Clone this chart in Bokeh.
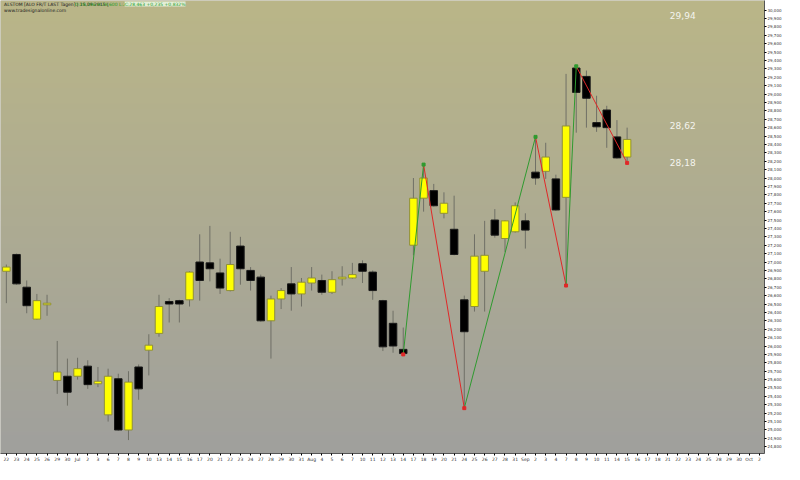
import numpy as np
from bokeh.plotting import figure
from bokeh.models import (ColumnDataSource, FixedTicker, CustomJSTickFormatter,
                          Label, Range1d)
from bokeh.embed import file_html
from bokeh.resources import INLINE

# ---- data -----------------------------------------------------------------
tick_labels = ["22", "23", "24", "25", "26", "29", "30", "Jul", "2", "3",
               "6", "7", "8", "9", "10", "13", "14", "15", "16", "17",
               "20", "21", "22", "23", "24", "27", "28", "29", "30", "31",
               "Aug", "4", "5", "6", "7", "10", "11", "12", "13", "14",
               "17", "18", "19", "20", "21", "24", "25", "26", "27", "28",
               "31", "Sep", "2", "3", "4", "7", "8", "9", "10", "11",
               "14", "15", "16", "17", "18", "21", "22", "23", "24", "25",
               "28", "29", "30", "Oct", "2"]

opens = [26.89, 27.09, 26.70, 26.32, 26.49, 25.59, 25.64, 25.64, 25.76, 25.55,
         25.18, 25.61, 25.00, 25.75, 25.95, 26.15, 26.53, 26.54, 26.55, 27.00,
         26.99, 26.87, 26.66, 27.19, 26.90, 26.82, 26.30, 26.56, 26.74, 26.62,
         26.75, 26.78, 26.64, 26.80, 26.81, 26.98, 26.88, 26.54, 26.27, 25.96,
         27.20, 27.76, 27.85, 27.58, 27.39, 26.55, 26.47, 26.89, 27.50, 27.28,
         27.36, 27.49, 28.07, 28.08, 27.99, 27.77, 29.31, 29.21, 28.66, 28.81,
         28.49, 28.25]
highs = [26.97, 27.10, 26.78, 26.62, 26.61, 26.06, 25.85, 25.86, 25.83, 25.75,
         25.73, 25.67, 25.70, 25.78, 26.14, 26.61, 26.57, 26.55, 26.89, 27.33,
         27.43, 27.04, 27.36, 27.30, 26.94, 26.85, 26.60, 26.69, 26.94, 26.81,
         26.94, 26.85, 26.89, 26.95, 26.99, 27.02, 26.90, 26.55, 26.42, 26.22,
         28.00, 28.16, 27.93, 27.83, 27.79, 26.60, 27.33, 27.49, 27.63, 27.50,
         27.71, 27.58, 28.49, 28.42, 28.04, 29.24, 29.33, 29.28, 28.98, 28.86,
         28.69, 28.60]
lows = [26.51, 26.73, 26.39, 26.31, 26.36, 25.43, 25.29, 25.60, 25.49, 25.51,
        25.10, 24.99, 24.88, 25.36, 25.65, 26.11, 26.28, 26.28, 26.47, 26.54,
        26.77, 26.62, 26.65, 26.73, 26.66, 26.29, 25.85, 26.44, 26.42, 26.47,
        26.66, 26.61, 26.62, 26.72, 26.80, 26.75, 26.55, 25.94, 25.92, 25.90,
        27.08, 27.60, 27.66, 27.52, 27.08, 25.26, 26.41, 26.41, 27.29, 27.12,
        27.35, 27.16, 27.92, 27.99, 27.61, 26.72, 28.54, 28.60, 28.55, 28.36,
        28.23, 28.18]
closes = [26.94, 26.74, 26.48, 26.54, 26.51, 25.69, 25.45, 25.73, 25.54, 25.58,
          25.64, 25.00, 25.57, 25.49, 26.01, 26.47, 26.50, 26.50, 26.88, 26.78,
          26.92, 26.69, 26.97, 26.92, 26.78, 26.30, 26.56, 26.66, 26.62, 26.76,
          26.81, 26.64, 26.79, 26.82, 26.85, 26.89, 26.66, 25.99, 26.00, 25.91,
          27.76, 28.00, 27.67, 27.70, 27.09, 26.17, 27.07, 27.08, 27.32, 27.49,
          27.67, 27.38, 28.00, 28.25, 27.62, 28.62, 29.02, 28.95, 28.61, 28.60,
          28.24, 28.46]

# zigzag pivots (bar index, price)
pivot_idx = [39, 41, 45, 52, 55, 56, 61]
pivot_val = [25.90, 28.16, 25.26, 28.49, 26.72, 29.33, 28.18]

# price levels written at the right
level_values = [29.94, 28.62, 28.18]
level_texts = ["29,94", "28,62", "28,18"]

header_line = "ALSTOM [ALO FR/T LAST Tagen] | 15.09.2015 |"
header_ohl = "O:28,246 H:28,600 L:28,180 |"
header_close = "C:28,463 +0,235 +0,832%"
header_site = "www.tradesignalonline.com"

# ---- figure ---------------------------------------------------------------
X0, X1 = -0.575, 74.5
Y0, Y1 = 24.72, 30.114

p = figure(width=784, height=464, output_backend="svg", toolbar_location=None,
           x_range=Range1d(X0, X1), y_range=Range1d(Y0, Y1),
           y_axis_location="right", min_border_left=0, min_border_top=0,
           min_border_right=0, min_border_bottom=0,
           background_fill_color="#aaa89a", border_fill_color="white",
           outline_line_color=None)

# background gradient (khaki at top -> grey at bottom)
n = 256
top = np.array([186, 182, 136], dtype=float)
bot = np.array([160, 160, 157], dtype=float)
t = np.linspace(0, 1, n)[:, None]
cols = (bot * (1 - t) + top * t).astype(np.uint32)
img = np.empty((n, 1), dtype=np.uint32)
view = img.view(dtype=np.uint8).reshape((n, 1, 4))
view[:, 0, 0] = cols[:, 0]
view[:, 0, 1] = cols[:, 1]
view[:, 0, 2] = cols[:, 2]
view[:, 0, 3] = 255
p.image_rgba(image=[img], x=X0, y=Y0, dw=X1 - X0, dh=Y1 - Y0)

# grid
p.xgrid.ticker = FixedTicker(ticks=[7, 30, 51, 73])
p.ygrid.ticker = FixedTicker(ticks=[25.0, 25.5, 26.0, 26.5, 27.0, 27.5, 28.0, 28.5, 29.0, 29.5])
for g in (p.xgrid, p.ygrid):
    g.grid_line_color = "white"
    g.grid_line_alpha = 0.22
    g.grid_line_width = 1
p.xgrid.level = "image"
p.ygrid.level = "image"

# candles
idx = list(range(len(opens)))
up = [c >= o for o, c in zip(opens, closes)]
src = ColumnDataSource(dict(
    x=idx, o=opens, h=highs, l=lows, c=closes,
    top=[max(o, c) for o, c in zip(opens, closes)],
    bot=[min(o, c) for o, c in zip(opens, closes)],
    fill=["#ffff00" if u else "#000000" for u in up],
    line=["#8f8f3a" if u else "#1a1a1a" for u in up],
))
p.segment(x0="x", y0="h", x1="x", y1="l", source=src, line_color="#6f6f66",
          line_width=1)
p.vbar(x="x", width=0.74, top="top", bottom="bot", source=src,
       fill_color="fill", line_color="line", line_width=1)

# zigzag
for i in range(len(pivot_idx) - 1):
    col = "#2f9a2f" if pivot_val[i + 1] > pivot_val[i] else "#e02828"
    p.line([pivot_idx[i], pivot_idx[i + 1]], [pivot_val[i], pivot_val[i + 1]],
           line_color=col, line_width=1)
p.scatter(pivot_idx, pivot_val, marker="square", size=3,
          color=["#e02828" if k % 2 == 0 else "#2f9a2f" for k in range(len(pivot_idx))])

# level texts
for v, s in zip(level_values, level_texts):
    p.add_layout(Label(x=65.2, y=v, text=s, text_font="DejaVu Sans",
                       text_font_size="9px", text_color="#f4f4ee",
                       text_baseline="middle", text_align="left"))

# header
p.add_layout(Label(x=X0 + 0.35, y=Y1 - 0.012, text=header_line, text_font="DejaVu Sans",
                   text_font_size="4.5px", text_color="#202020", text_baseline="top"))
p.add_layout(Label(x=X0 + 7.3, y=Y1 - 0.012, text=header_ohl, text_font="DejaVu Sans",
                   text_font_size="4.5px", text_color="#1e9a1e", text_baseline="top"))
p.add_layout(Label(x=X0 + 12.2, y=Y1 - 0.012, text=header_close, text_font="DejaVu Sans",
                   text_font_size="4.5px", text_color="#1e9a1e", text_baseline="top",
                   background_fill_color="#e8f4e0", background_fill_alpha=0.9))
p.add_layout(Label(x=X0 + 0.35, y=Y1 - 0.085, text=header_site, text_font="DejaVu Sans",
                   text_font_size="4.5px", text_color="#202020", text_baseline="top"))

# axes
ya = p.yaxis[0]
ya.ticker = FixedTicker(ticks=[round(v / 10, 1) for v in range(248, 301)])
ya.formatter = CustomJSTickFormatter(code="return tick.toFixed(3).replace('.', ',');")
ya.major_label_text_font_size = "4px"
ya.major_label_text_font = "DejaVu Sans"
ya.major_label_text_color = "#333333"
ya.major_tick_in = 0
ya.major_tick_out = 2
ya.minor_tick_line_color = None
ya.major_label_standoff = 1
ya.axis_line_color = "#555555"

xa = p.xaxis[0]
xa.ticker = FixedTicker(ticks=list(range(len(tick_labels))))
xa.major_label_overrides = {i: s for i, s in enumerate(tick_labels)}
xa.major_label_text_font_size = "4.5px"
xa.major_label_text_font = "DejaVu Sans"
xa.major_label_text_color = "#333333"
xa.major_tick_in = 0
xa.major_tick_out = 2
xa.minor_tick_line_color = None
xa.major_label_standoff = 1
xa.axis_line_color = "#555555"

open("out.html", "w").write(file_html(p, INLINE))
